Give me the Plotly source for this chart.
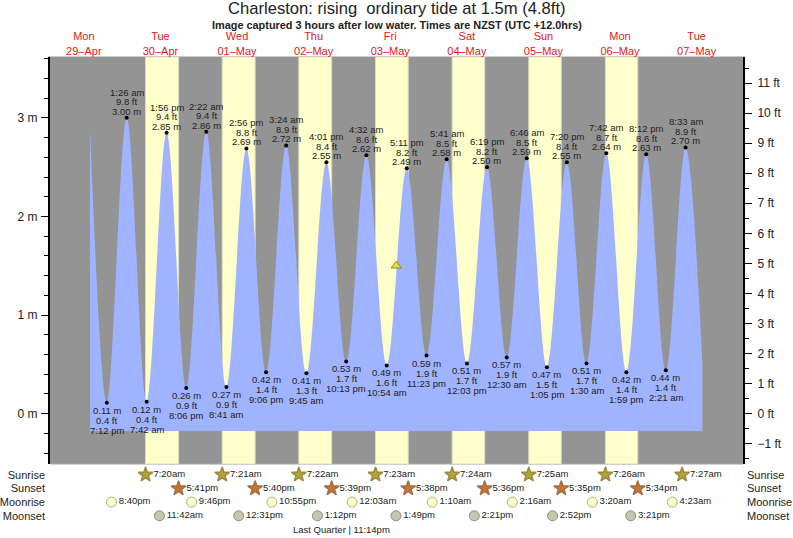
import plotly.graph_objects as go

FONT = "Liberation Sans"

# Tide extremes
ext_when = ["2024-04-29 19:12", "2024-04-30 01:26", "2024-04-30 07:42", "2024-04-30 13:56", "2024-04-30 20:06",
            "2024-05-01 02:22", "2024-05-01 08:41", "2024-05-01 14:56", "2024-05-01 21:06", "2024-05-02 03:24",
            "2024-05-02 09:45", "2024-05-02 16:01", "2024-05-02 22:13", "2024-05-03 04:32", "2024-05-03 10:54",
            "2024-05-03 17:11", "2024-05-03 23:23", "2024-05-04 05:41", "2024-05-04 12:03", "2024-05-04 18:19",
            "2024-05-05 00:30", "2024-05-05 06:46", "2024-05-05 13:05", "2024-05-05 19:20", "2024-05-06 01:30",
            "2024-05-06 07:42", "2024-05-06 13:59", "2024-05-06 20:12", "2024-05-07 02:21", "2024-05-07 08:33"]
ext_time_labels = ["7:12 pm", "1:26 am", "7:42 am", "1:56 pm", "8:06 pm", "2:22 am", "8:41 am", "2:56 pm", "9:06 pm",
                   "3:24 am", "9:45 am", "4:01 pm", "10:13 pm", "4:32 am", "10:54 am", "5:11 pm", "11:23 pm", "5:41 am",
                   "12:03 pm", "6:19 pm", "12:30 am", "6:46 am", "1:05 pm", "7:20 pm", "1:30 am", "7:42 am", "1:59 pm",
                   "8:12 pm", "2:21 am", "8:33 am"]
ext_m = [0.11, 3.00, 0.12, 2.85, 0.26, 2.86, 0.27, 2.69, 0.42, 2.72, 0.41, 2.55, 0.53, 2.62, 0.49,
         2.49, 0.59, 2.58, 0.51, 2.50, 0.57, 2.59, 0.47, 2.55, 0.51, 2.64, 0.42, 2.63, 0.44, 2.70]
ext_ft = [0.4, 9.8, 0.4, 9.4, 0.9, 9.4, 0.9, 8.8, 1.4, 8.9, 1.3, 8.4, 1.7, 8.6, 1.6,
          8.2, 1.9, 8.5, 1.7, 8.2, 1.9, 8.5, 1.5, 8.4, 1.7, 8.7, 1.4, 8.6, 1.4, 8.9]
ext_high = [False, True] * 15

# Ends of the drawn curve
curve_start = ("2024-04-29 13:56", 2.89)
curve_end = ("2024-05-07 13:48", 0.51)
fill_floor = -0.175

# Sun and moon
sunrise_when = ["2024-04-30 07:20", "2024-05-01 07:21", "2024-05-02 07:22", "2024-05-03 07:23",
                "2024-05-04 07:24", "2024-05-05 07:25", "2024-05-06 07:26", "2024-05-07 07:27"]
sunrise_labels = ["7:20am", "7:21am", "7:22am", "7:23am", "7:24am", "7:25am", "7:26am", "7:27am"]
sunset_when = ["2024-04-30 17:41", "2024-05-01 17:40", "2024-05-02 17:39", "2024-05-03 17:38",
               "2024-05-04 17:36", "2024-05-05 17:35", "2024-05-06 17:34"]
sunset_labels = ["5:41pm", "5:40pm", "5:39pm", "5:38pm", "5:36pm", "5:35pm", "5:34pm"]
moonrise_when = ["2024-04-29 20:40", "2024-04-30 21:46", "2024-05-01 22:55", "2024-05-03 00:03",
                 "2024-05-04 01:10", "2024-05-05 02:16", "2024-05-06 03:20", "2024-05-07 04:23"]
moonrise_labels = ["8:40pm", "9:46pm", "10:55pm", "12:03am", "1:10am", "2:16am", "3:20am", "4:23am"]
moonset_when = ["2024-04-30 11:42", "2024-05-01 12:31", "2024-05-02 13:12", "2024-05-03 13:49",
                "2024-05-04 14:21", "2024-05-05 14:52", "2024-05-06 15:21"]
moonset_labels = ["11:42am", "12:31pm", "1:12pm", "1:49pm", "2:21pm", "2:52pm", "3:21pm"]
row_names = ["Sunrise", "Sunset", "Moonrise", "Moonset"]

# Day labels
day_noons = ["2024-04-29 12:00", "2024-04-30 12:00", "2024-05-01 12:00", "2024-05-02 12:00", "2024-05-03 12:00",
             "2024-05-04 12:00", "2024-05-05 12:00", "2024-05-06 12:00", "2024-05-07 12:00"]
day_labels = ["Mon<br>29–Apr", "Tue<br>30–Apr", "Wed<br>01–May", "Thu<br>02–May", "Fri<br>03–May",
              "Sat<br>04–May", "Sun<br>05–May", "Mon<br>06–May", "Tue<br>07–May"]

# Current state
now_when = "2024-05-03 13:54"
now_m = 1.5

M_TO_FT = 3.2808
Y_RANGE = [-0.513, 3.617]
TXT = "#222222"
GRAY = "#949494"
BLUE = "#a0b3ff"

fig = go.Figure()

# fill floor, then curve filled down to it
fig.add_trace(go.Scatter(x=[curve_start[0], curve_end[0]], y=[fill_floor, fill_floor], mode="lines",
                         line=dict(width=0, color=BLUE), hoverinfo="skip", showlegend=False))
fig.add_trace(go.Scatter(x=[curve_start[0]] + ext_when + [curve_end[0]],
                         y=[curve_start[1]] + ext_m + [curve_end[1]],
                         mode="lines", line=dict(shape="spline", smoothing=1.0, width=0, color=BLUE),
                         fill="tonexty", fillcolor=BLUE, hoverinfo="skip", showlegend=False))
# dots
fig.add_trace(go.Scatter(x=ext_when, y=ext_m, mode="markers", marker=dict(size=4, color="black"),
                         hoverinfo="skip", showlegend=False))
# the feet scale
fig.add_trace(go.Scatter(x=ext_when, y=ext_ft, yaxis="y2", mode="markers", marker=dict(size=1, opacity=0),
                         hoverinfo="skip", showlegend=False))
# now marker
fig.add_trace(go.Scatter(x=[now_when], y=[now_m], mode="markers",
                         marker=dict(symbol="triangle-up", size=9, color="#e6de48", line=dict(color="#8a8a20", width=1)),
                         hoverinfo="skip", showlegend=False))


def row(when, labels, rownum, symbol, size, fill, edge, width=1, axis="y3"):
    fig.add_trace(go.Scatter(x=when, y=[rownum] * len(when), yaxis=axis, mode="markers+text", text=labels,
                             textposition="middle right", textfont=dict(family=FONT, size=9.5, color=TXT),
                             marker=dict(symbol=symbol, size=size, color=fill, line=dict(color=edge, width=width)),
                             hoverinfo="skip", showlegend=False, cliponaxis=False))


row(sunrise_when, sunrise_labels, 0, "star", 11, "#ada63c", "#a08a40", 1.5)
row(sunset_when, sunset_labels, 1, "star", 11, "#d2702a", "#a0704a", 1.5)
row(moonrise_when, moonrise_labels, 2, "circle", 10, "#ffffc8", "#aaaa98")
row(moonset_when, moonset_labels, 3, "circle", 10, "#c4c6b0", "#8e8e80", axis="y4")

ann = [
    dict(text="Charleston: rising  ordinary tide at 1.5m (4.8ft)", yshift=57 - 8.5,
         font=dict(size=16.6, color=TXT, family=FONT)),
    dict(text="<b>Image captured 3 hours after low water. Times are NZST (UTC +12.0hrs)</b>", yshift=57 - 24.5,
         font=dict(size=10.9, color=TXT, family=FONT)),
]
for a in ann:
    a.update(xref="paper", yref="paper", x=(396.5 - 50) / 693, y=1, showarrow=False, xanchor="center", yanchor="middle")

for when, lab, m, ft, high in zip(ext_when, ext_time_labels, ext_m, ext_ft, ext_high):
    lines = [f"{m:.2f} m", f"{ft:.1f} ft", lab]
    shifts = [6.5, 16, 25.5] if high else [-7.5, -17.5, -27.5]
    for line, s in zip(lines, shifts):
        ann.append(dict(text=line, x=when, y=m, xref="x", yref="y", yshift=s, showarrow=False,
                        xanchor="center", yanchor="middle", font=dict(size=9.5, color=TXT, family=FONT)))

ann.append(dict(text="Last Quarter | 11:14pm", x="2024-05-02 23:14", y=4, xref="x", yref="y3", xshift=-8,
                showarrow=False, xanchor="center", yanchor="middle", font=dict(size=9.5, color=TXT, family=FONT)))

dom_split = 73.7 / 481
shapes = [dict(type="rect", xref="x domain", yref="y domain", x0=0, x1=1, y0=0, y1=1, layer="below",
               fillcolor=GRAY, line=dict(width=0))]
shapes += [dict(type="rect", xref="x", yref="y domain", x0=a, x1=b, y0=0, y1=1, layer="below",
                fillcolor="#ffffcc", line=dict(color="#dcdcc0", width=1)) for a, b in zip(sunrise_when, sunset_when)]
shapes.append(dict(type="line", xref="x domain", yref="y domain", x0=0, x1=1, y0=0, y1=0, layer="above",
                   line=dict(color="#cccccc", width=1)))

fig.update_layout(
    width=793, height=538, margin=dict(l=50, r=50, t=57, b=0, pad=0), autosize=False,
    paper_bgcolor="white", plot_bgcolor="white", showlegend=False, hovermode=False,
    font=dict(family=FONT, color=TXT),
    annotations=ann, shapes=shapes,
    xaxis=dict(type="date", range=["2024-04-29 01:24", "2024-05-08 02:32"], side="top", anchor="y",
               tickmode="array", tickvals=day_noons, ticktext=day_labels, ticks="", showgrid=False, zeroline=False,
               tickfont=dict(family=FONT, size=11, color="#e02020"), showline=True, linecolor="#cccccc", linewidth=1,
               tickangle=0, ticklabelstandoff=-3),
    yaxis=dict(domain=[dom_split, 1], range=Y_RANGE, tick0=0, dtick=1, ticksuffix=" m", showgrid=False, zeroline=False,
               ticks="outside", ticklen=7, tickwidth=1, tickcolor="black", showline=True, linewidth=2, linecolor="black",
               tickfont=dict(family=FONT, size=12, color=TXT), ticklabelstandoff=1,
               minor=dict(tick0=0, dtick=0.2, ticks="outside", ticklen=4, tickwidth=1, tickcolor="black", showgrid=False)),
    yaxis2=dict(overlaying="y", side="right", anchor="x", range=[v * M_TO_FT for v in Y_RANGE], tick0=0, dtick=1, ticksuffix=" ft",
                showgrid=False, zeroline=False, ticks="outside", ticklen=7, tickwidth=1, tickcolor="black", showline=True,
                linewidth=2, linecolor="black", tickfont=dict(family=FONT, size=12, color=TXT), ticklabelstandoff=3,
                minor=dict(tick0=0, dtick=0.5, ticks="outside", ticklen=4, tickwidth=1, tickcolor="black", showgrid=False)),
    yaxis3=dict(domain=[0, dom_split], anchor="x", range=[4.62, -0.759], tickmode="array", tickvals=[0, 1, 2, 3], ticktext=row_names,
                ticks="", showgrid=False, zeroline=False, showline=False, tickfont=dict(family=FONT, size=11, color=TXT),
                ticklabelstandoff=4),
    yaxis4=dict(overlaying="y3", side="right", anchor="x", range=[4.62, -0.759], tickmode="array", tickvals=[0, 1, 2, 3], ticktext=row_names,
                ticks="", showgrid=False, zeroline=False, showline=False, tickfont=dict(family=FONT, size=11, color=TXT),
                ticklabelstandoff=3),
)

fig.write_html("out.html", post_script="document.body.style.margin='0';", config=dict(displayModeBar=False))
